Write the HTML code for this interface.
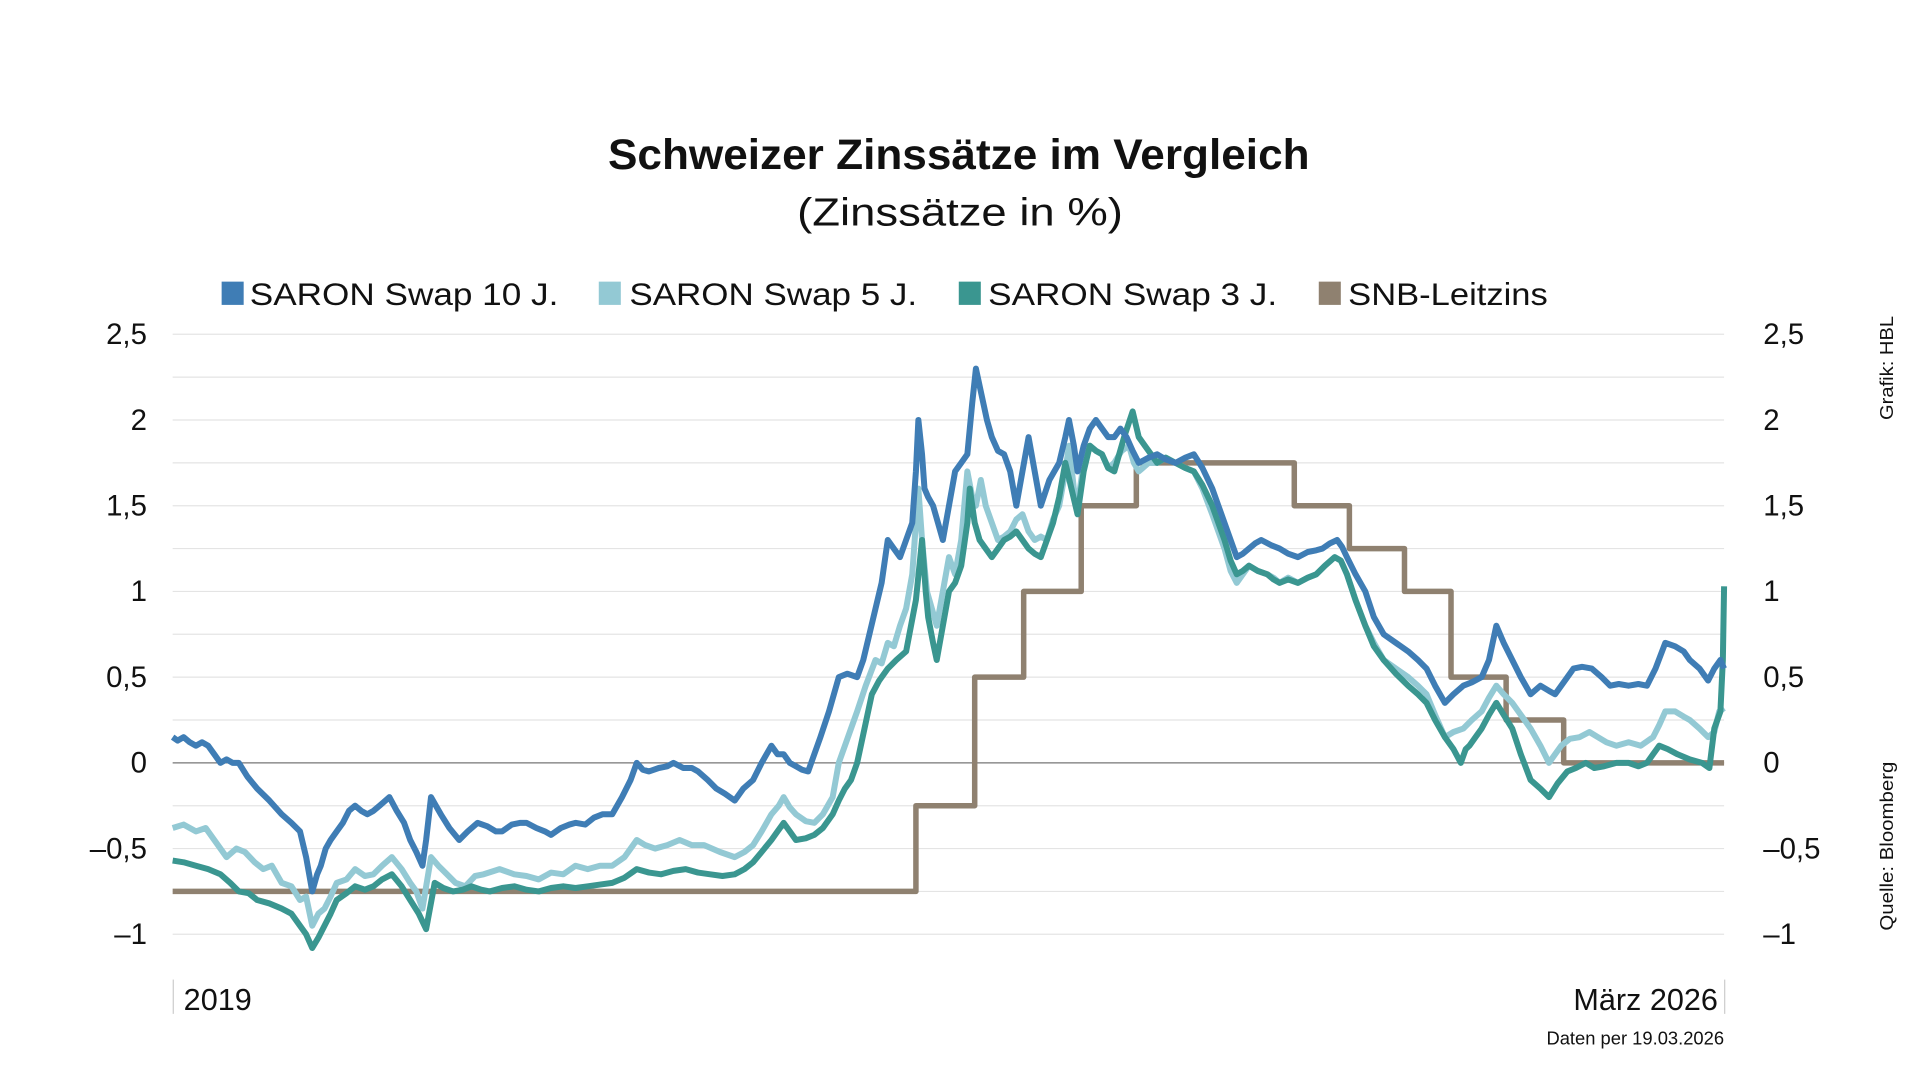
<!DOCTYPE html>
<html><head><meta charset="utf-8"><style>
html,body{margin:0;padding:0;background:#fff;}
svg{display:block;}
text{font-family:"Liberation Sans",sans-serif;fill:#111;}
</style></head><body>
<svg width="1920" height="1080" viewBox="0 0 1568 882" preserveAspectRatio="none" xmlns="http://www.w3.org/2000/svg">
<rect width="1568" height="882" fill="#fff"/>
<text x="783" y="138" text-anchor="middle" font-size="35" font-weight="bold" textLength="573" lengthAdjust="spacingAndGlyphs">Schweizer Zinssätze im Vergleich</text>
<text x="784" y="184" text-anchor="middle" font-size="32" textLength="266" lengthAdjust="spacingAndGlyphs">(Zinssätze in %)</text>
<rect x="181" y="230" width="18" height="19" fill="#3f7db5"/>
<text x="204" y="249" font-size="26" textLength="252" lengthAdjust="spacingAndGlyphs">SARON Swap 10 J.</text>
<rect x="489" y="230" width="18" height="19" fill="#93c9d4"/>
<text x="514" y="249" font-size="26" textLength="235" lengthAdjust="spacingAndGlyphs">SARON Swap 5 J.</text>
<rect x="783" y="230" width="18" height="19" fill="#3a9690"/>
<text x="807" y="249" font-size="26" textLength="236" lengthAdjust="spacingAndGlyphs">SARON Swap 3 J.</text>
<rect x="1077" y="230" width="18" height="19" fill="#8f8170"/>
<text x="1101" y="249" font-size="26" textLength="163" lengthAdjust="spacingAndGlyphs">SNB-Leitzins</text>
<g stroke="#e4e4e4" stroke-width="1">
<line x1="141" x2="1408" y1="273" y2="273"/><line x1="141" x2="1408" y1="308" y2="308"/>
<line x1="141" x2="1408" y1="343" y2="343"/><line x1="141" x2="1408" y1="378" y2="378"/>
<line x1="141" x2="1408" y1="413" y2="413"/><line x1="141" x2="1408" y1="448" y2="448"/>
<line x1="141" x2="1408" y1="483" y2="483"/><line x1="141" x2="1408" y1="518" y2="518"/>
<line x1="141" x2="1408" y1="553" y2="553"/><line x1="141" x2="1408" y1="588" y2="588"/>
<line x1="141" x2="1408" y1="658" y2="658"/><line x1="141" x2="1408" y1="693" y2="693"/>
<line x1="141" x2="1408" y1="728" y2="728"/><line x1="141" x2="1408" y1="763" y2="763"/>
</g>
<line x1="141" x2="1408" y1="623" y2="623" stroke="#777" stroke-width="1"/>
<g font-size="24" text-anchor="end">
<text x="120" y="281">2,5</text><text x="120" y="351">2</text><text x="120" y="421">1,5</text>
<text x="120" y="491">1</text><text x="120" y="561">0,5</text><text x="120" y="631">0</text>
<text x="120" y="701">–0,5</text><text x="120" y="771">–1</text>
</g>
<g font-size="24">
<text x="1440" y="281">2,5</text><text x="1440" y="351">2</text><text x="1440" y="421">1,5</text>
<text x="1440" y="491">1</text><text x="1440" y="561">0,5</text><text x="1440" y="631">0</text>
<text x="1440" y="701">–0,5</text><text x="1440" y="771">–1</text>
</g>
<line x1="141.5" x2="141.5" y1="800" y2="828" stroke="#ccc"/>
<line x1="1408.5" x2="1408.5" y1="800" y2="828" stroke="#ccc"/>
<text x="150" y="825" font-size="25">2019</text>
<text x="1403" y="825" font-size="25" text-anchor="end">März 2026</text>
<text x="1408" y="853" font-size="15" text-anchor="end">Daten per 19.03.2026</text>
<text transform="translate(1546,343) rotate(-90)" font-size="15" fill="#333" textLength="85" lengthAdjust="spacingAndGlyphs">Grafik: HBL</text>
<text transform="translate(1546,760) rotate(-90)" font-size="15" fill="#333" textLength="138" lengthAdjust="spacingAndGlyphs">Quelle: Bloomberg</text>
<g transform="translate(0,623) scale(1,-140)" fill="none" stroke-linejoin="round">
<polyline vector-effect="non-scaling-stroke" stroke="#8f8170" stroke-width="5.5" points="141,-0.75 748,-0.75 748,-0.25 796,-0.25 796,0.5 836,0.5 836,1 883,1 883,1.5 928,1.5 928,1.75 1057,1.75 1057,1.5 1102,1.5 1102,1.25 1147,1.25 1147,1 1185,1 1185,0.5 1230,0.5 1230,0.25 1277,0.25 1277,0 1408,0"/>
<polyline vector-effect="non-scaling-stroke" stroke="#93c9d4" stroke-width="6" points="141,-0.38 150,-0.36 160,-0.4 168,-0.38 175,-0.45 185,-0.55 193,-0.5 200,-0.52 208,-0.58 215,-0.62 222,-0.6 230,-0.7 238,-0.72 245,-0.8 250,-0.78 255,-0.95 260,-0.88 265,-0.85 270,-0.78 275,-0.7 283,-0.68 290,-0.62 298,-0.66 305,-0.65 312,-0.6 320,-0.55 328,-0.62 335,-0.7 340,-0.75 345,-0.85 352,-0.55 358,-0.6 365,-0.65 372,-0.7 380,-0.72 388,-0.66 395,-0.65 408,-0.62 420,-0.65 430,-0.66 440,-0.68 450,-0.64 460,-0.65 470,-0.6 480,-0.62 490,-0.6 500,-0.6 510,-0.55 520,-0.45 527,-0.48 535,-0.5 545,-0.48 555,-0.45 565,-0.48 575,-0.48 588,-0.52 600,-0.55 608,-0.52 615,-0.48 622,-0.4 630,-0.3 636,-0.25 640,-0.2 645,-0.26 650,-0.3 658,-0.34 665,-0.35 672,-0.3 680,-0.2 685,0 690,0.1 695,0.2 700,0.3 707,0.45 715,0.6 720,0.58 725,0.7 730,0.68 735,0.8 740,0.9 745,1.1 750,1.6 753,1.3 757,1.0 761,0.9 765,0.8 770,1.0 775,1.2 780,1.1 785,1.3 790,1.7 794,1.55 797,1.5 801,1.65 805,1.5 810,1.4 815,1.3 820,1.32 825,1.35 830,1.42 835,1.45 840,1.35 845,1.3 850,1.32 855,1.3 860,1.42 865,1.5 870,1.7 873,1.85 877,1.6 880,1.5 885,1.75 890,1.85 895,1.82 900,1.8 905,1.72 910,1.75 916,1.82 922,1.85 926,1.75 930,1.7 938,1.75 945,1.75 952,1.78 960,1.75 968,1.72 975,1.7 982,1.6 990,1.45 995,1.35 1000,1.25 1005,1.12 1010,1.05 1015,1.1 1020,1.15 1027,1.12 1035,1.1 1040,1.08 1045,1.05 1052,1.08 1060,1.05 1068,1.08 1075,1.1 1082,1.15 1090,1.2 1095,1.18 1100,1.1 1107,0.95 1115,0.8 1122,0.7 1130,0.6 1140,0.55 1150,0.5 1158,0.45 1165,0.4 1172,0.28 1180,0.15 1187,0.18 1195,0.2 1202,0.25 1210,0.3 1216,0.38 1222,0.45 1228,0.4 1235,0.35 1242,0.28 1250,0.2 1258,0.1 1265,0.0 1270,0.05 1275,0.1 1282,0.14 1290,0.15 1298,0.18 1305,0.15 1312,0.12 1320,0.1 1330,0.12 1340,0.1 1350,0.15 1355,0.22 1360,0.3 1368,0.3 1375,0.27 1380,0.25 1388,0.2 1395,0.15 1400,0.18 1404,0.3 1408,0.32"/>
<polyline vector-effect="non-scaling-stroke" stroke="#3a9690" stroke-width="6" points="141,-0.57 150,-0.58 160,-0.6 170,-0.62 180,-0.65 188,-0.7 195,-0.75 203,-0.76 210,-0.8 220,-0.82 230,-0.85 238,-0.88 245,-0.95 250,-1.0 255,-1.08 260,-1.02 265,-0.95 270,-0.88 275,-0.8 283,-0.76 290,-0.72 298,-0.74 305,-0.72 312,-0.68 320,-0.65 328,-0.72 335,-0.8 342,-0.88 348,-0.97 355,-0.7 362,-0.73 370,-0.75 378,-0.74 385,-0.72 393,-0.74 400,-0.75 410,-0.73 420,-0.72 430,-0.74 440,-0.75 450,-0.73 460,-0.72 470,-0.73 480,-0.72 490,-0.71 500,-0.7 510,-0.67 520,-0.62 530,-0.64 540,-0.65 550,-0.63 560,-0.62 570,-0.64 580,-0.65 590,-0.66 600,-0.65 608,-0.62 615,-0.58 622,-0.52 630,-0.45 635,-0.4 640,-0.35 645,-0.4 650,-0.45 658,-0.44 665,-0.42 672,-0.38 680,-0.3 685,-0.22 690,-0.15 695,-0.1 700,0.0 706,0.2 712,0.4 718,0.48 725,0.55 732,0.6 740,0.65 744,0.8 748,0.95 753,1.3 756,1.0 758,0.85 762,0.7 765,0.6 770,0.8 775,1.0 780,1.05 785,1.15 790,1.4 792,1.6 796,1.4 800,1.3 805,1.25 810,1.2 815,1.25 820,1.3 825,1.32 830,1.35 835,1.3 840,1.25 845,1.22 850,1.2 855,1.3 860,1.4 865,1.55 870,1.75 875,1.6 880,1.45 885,1.7 890,1.85 895,1.82 900,1.8 905,1.72 910,1.7 918,1.9 925,2.05 930,1.9 935,1.85 940,1.8 945,1.75 952,1.78 960,1.75 968,1.72 975,1.7 982,1.62 990,1.5 995,1.4 1000,1.3 1005,1.18 1010,1.1 1015,1.12 1020,1.15 1027,1.12 1035,1.1 1040,1.07 1045,1.05 1052,1.07 1060,1.05 1068,1.08 1075,1.1 1082,1.15 1090,1.2 1095,1.18 1100,1.1 1107,0.95 1115,0.8 1122,0.68 1130,0.6 1140,0.52 1150,0.45 1158,0.4 1165,0.35 1172,0.25 1180,0.15 1187,0.08 1193,0.0 1197,0.08 1200,0.1 1205,0.15 1210,0.2 1216,0.28 1222,0.35 1228,0.28 1235,0.2 1242,0.05 1250,-0.1 1258,-0.15 1265,-0.2 1272,-0.12 1280,-0.05 1287,-0.03 1295,0.0 1302,-0.03 1310,-0.02 1320,0.0 1330,0.0 1338,-0.02 1345,0.0 1350,0.05 1355,0.1 1362,0.08 1370,0.05 1380,0.02 1390,0.0 1396,-0.03 1400,0.2 1405,0.3 1407,0.6 1408,1.03"/>
<polyline vector-effect="non-scaling-stroke" stroke="#3f7db5" stroke-width="6" points="141,0.15 145,0.13 150,0.15 155,0.12 160,0.1 165,0.12 170,0.1 175,0.05 180,0.0 185,0.02 190,0.0 195,0.0 202,-0.08 210,-0.15 220,-0.22 230,-0.3 238,-0.35 245,-0.4 250,-0.55 255,-0.75 259,-0.65 262,-0.6 266,-0.5 270,-0.45 275,-0.4 280,-0.35 285,-0.28 290,-0.25 295,-0.28 300,-0.3 305,-0.28 310,-0.25 318,-0.2 324,-0.28 330,-0.35 335,-0.45 340,-0.52 345,-0.6 348,-0.45 352,-0.2 356,-0.25 360,-0.3 367,-0.38 375,-0.45 382,-0.4 390,-0.35 398,-0.37 405,-0.4 410,-0.4 418,-0.36 425,-0.35 430,-0.35 438,-0.38 445,-0.4 450,-0.42 458,-0.38 465,-0.36 470,-0.35 478,-0.36 485,-0.32 492,-0.3 500,-0.3 508,-0.2 515,-0.1 520,0.0 525,-0.04 530,-0.05 538,-0.03 545,-0.02 550,0.0 558,-0.03 565,-0.03 570,-0.05 578,-0.1 585,-0.15 592,-0.18 600,-0.22 607,-0.15 615,-0.1 622,0.0 630,0.1 635,0.05 640,0.05 645,0.0 650,-0.02 655,-0.04 660,-0.05 665,0.05 670,0.15 677,0.3 685,0.5 692,0.52 700,0.5 705,0.6 710,0.75 715,0.9 720,1.05 725,1.3 730,1.25 735,1.2 740,1.3 745,1.4 748,1.7 750,2.0 753,1.8 755,1.6 758,1.55 762,1.5 766,1.4 770,1.3 775,1.5 780,1.7 785,1.75 790,1.8 794,2.1 797,2.3 800,2.2 803,2.1 806,2.0 810,1.9 815,1.82 820,1.8 825,1.7 830,1.5 835,1.7 840,1.9 845,1.7 850,1.5 857,1.65 865,1.75 870,1.9 873,2.0 877,1.85 880,1.7 885,1.85 890,1.95 895,2.0 900,1.95 905,1.9 910,1.9 915,1.95 920,1.9 925,1.82 930,1.75 938,1.78 945,1.8 952,1.77 960,1.75 968,1.78 975,1.8 982,1.72 990,1.6 995,1.5 1000,1.4 1005,1.3 1010,1.2 1015,1.22 1020,1.25 1025,1.28 1030,1.3 1038,1.27 1045,1.25 1052,1.22 1060,1.2 1068,1.23 1075,1.24 1080,1.25 1086,1.28 1092,1.3 1096,1.26 1100,1.2 1107,1.1 1115,1.0 1122,0.85 1130,0.75 1140,0.7 1150,0.65 1158,0.6 1165,0.55 1172,0.45 1180,0.35 1187,0.4 1195,0.45 1202,0.47 1210,0.5 1216,0.6 1222,0.8 1228,0.7 1235,0.6 1242,0.5 1250,0.4 1258,0.45 1265,0.42 1270,0.4 1278,0.48 1285,0.55 1292,0.56 1300,0.55 1308,0.5 1315,0.45 1322,0.46 1330,0.45 1338,0.46 1345,0.45 1352,0.55 1360,0.7 1368,0.68 1375,0.65 1380,0.6 1388,0.55 1395,0.48 1400,0.55 1405,0.6 1408,0.55"/>
</g>
</svg>
</body></html>
